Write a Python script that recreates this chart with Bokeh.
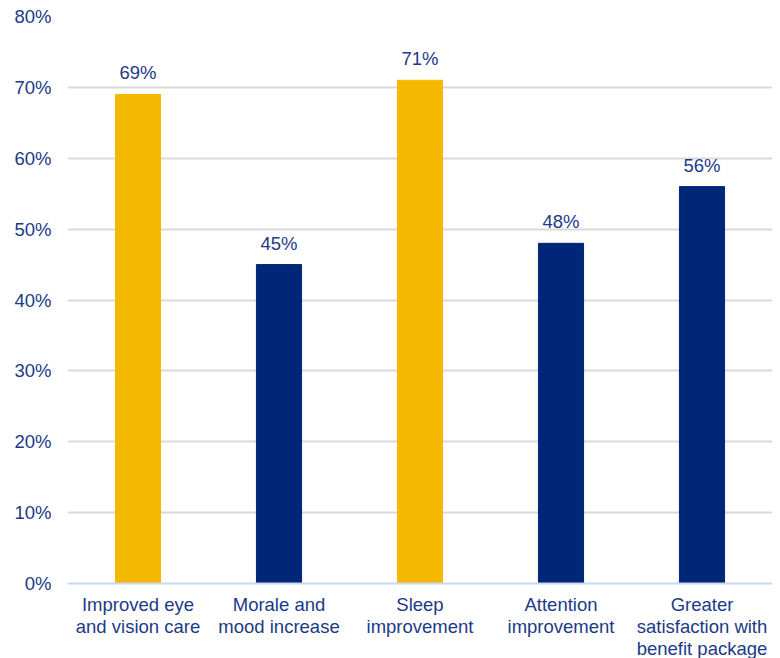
from bokeh.plotting import figure
from bokeh.models import ColumnDataSource, NumeralTickFormatter, FixedTicker, Range1d
from bokeh.core.properties import value
from bokeh.embed import file_html
from bokeh.resources import INLINE

categories = ["Improved eye\nand vision care", "Morale and\nmood increase", "Sleep\nimprovement",
              "Attention\nimprovement", "Greater\nsatisfaction with\nbenefit package"]
values = [0.69, 0.45, 0.71, 0.48, 0.56]
labels = ["69%", "45%", "71%", "48%", "56%"]
colors = ["#F5B800", "#002677", "#F5B800", "#002677", "#002677"]
yticks = [0, 0.1, 0.2, 0.3, 0.4, 0.5, 0.6, 0.7, 0.8]

TEXT = "#203A87"
FONT = "Liberation Sans"
FS = "18.5px"

src = ColumnDataSource(dict(cat=categories, val=values, lab=labels, col=colors))

p = figure(x_range=categories, frame_width=705, frame_height=567, output_backend="svg", toolbar_location=None,
           min_border_left=67, min_border_right=0, min_border_top=16, min_border_bottom=60)
p.y_range = Range1d(0, 0.8)
p.vbar(x="cat", top="val", width=0.32, color="col", source=src)
p.text(x="cat", y="val", text="lab", source=src, text_align="center", text_baseline="bottom",
       y_offset=-11, text_color=TEXT, text_font=value(FONT), text_font_size=FS)

p.outline_line_color = None
p.xgrid.grid_line_color = None
p.ygrid.grid_line_color = "#D9D9D9"
p.ygrid.grid_line_width = 2
p.yaxis.ticker = FixedTicker(ticks=yticks)
p.yaxis.formatter = NumeralTickFormatter(format="0%")
p.yaxis.axis_line_color = None
p.yaxis.major_tick_line_color = None
p.yaxis.minor_tick_line_color = None
p.yaxis.major_tick_out = 0
p.yaxis.major_label_standoff = 16
p.xaxis.axis_line_color = "#C9D8F2"
p.xaxis.axis_line_width = 2
p.xaxis.major_tick_line_color = None
p.xaxis.minor_tick_line_color = None
p.xaxis.major_tick_out = 0
p.xaxis.major_label_standoff = 10
for ax in (p.xaxis, p.yaxis):
    ax.major_label_text_color = TEXT
    ax.major_label_text_font = FONT
    ax.major_label_text_font_size = FS
p.xaxis.major_label_text_line_height = 1.06

open("out.html", "w").write(file_html(p, INLINE))
